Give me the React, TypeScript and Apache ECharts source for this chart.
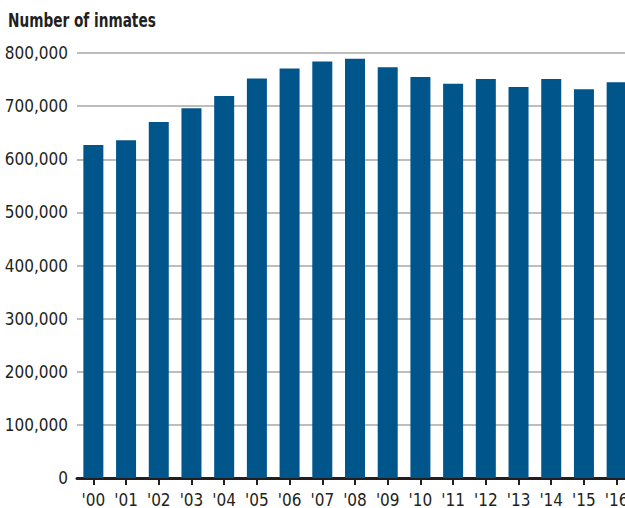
import React, { useEffect, useRef } from "react";
import * as echarts from "echarts";

const years = ["'00", "'01", "'02", "'03", "'04", "'05", "'06", "'07", "'08", "'09", "'10", "'11", "'12", "'13", "'14", "'15", "'16"];
const inmates = [627000, 636000, 670000, 696000, 719000, 752000, 771000, 784000, 789000, 773000, 755000, 742000, 751000, 736000, 751000, 732000, 745000];
const yTicks = [0, 100000, 200000, 300000, 400000, 500000, 600000, 700000, 800000];
const titleText = "Number of inmates";

const FONT = "'DejaVu Sans Condensed', 'Liberation Sans Narrow', 'Roboto', sans-serif";
const TEXT = "#231f20";

export default function App() {
  const ref = useRef<HTMLDivElement>(null);
  useEffect(() => {
    if (!ref.current) return;
    const chart = echarts.init(ref.current, null, { renderer: "svg" });
    chart.setOption({
      animation: false,
      textStyle: { fontFamily: FONT },
      grid: { left: 77, right: 0, top: 53, bottom: 30, containLabel: false },
      graphic: [
        {
          type: "text",
          x: 8,
          y: 11,
          scaleX: 0.8,
          style: { text: titleText, font: `bold 19px ${FONT}`, fill: TEXT },
        },
      ],
      xAxis: {
        type: "category",
        data: years,
        axisLine: { show: true, lineStyle: { color: TEXT, width: 3 } },
        axisTick: { show: true, alignWithLabel: true, length: 7, lineStyle: { color: TEXT, width: 2 } },
        axisLabel: { color: TEXT, fontSize: 17, fontFamily: FONT, margin: 13, interval: 0 },
      },
      yAxis: {
        type: "value",
        min: yTicks[0],
        max: yTicks[yTicks.length - 1],
        interval: yTicks[1] - yTicks[0],
        axisLine: { show: false },
        axisTick: { show: false },
        splitLine: { show: true, lineStyle: { color: "#bdbdbd", width: 2 } },
        axisLabel: {
          color: TEXT,
          fontSize: 17,
          fontFamily: FONT,
          margin: 9,
          formatter: (v: number) => v.toLocaleString("en-US"),
        },
      },
      series: [
        {
          type: "bar",
          data: inmates,
          barWidth: 20,
          itemStyle: { color: "#00558b" },
        },
      ],
    });
    return () => chart.dispose();
  }, []);
  return (
    <div style={{ position: "absolute", left: 0, top: 0, width: 625, height: 508, overflow: "hidden" }}>
      <div ref={ref} style={{ width: 633, height: 508 }} />
    </div>
  );
}
